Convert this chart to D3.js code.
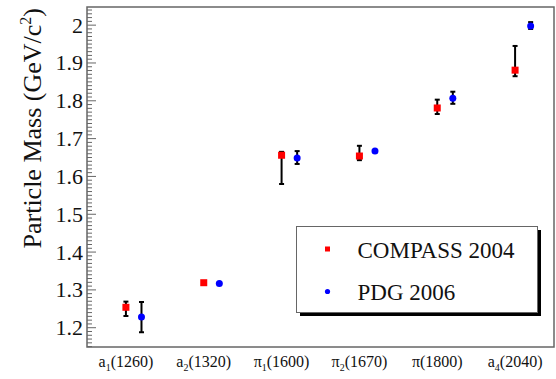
<!DOCTYPE html>
<html>
<head>
<meta charset="utf-8">
<script src="https://cdn.jsdelivr.net/npm/d3@7"></script>
<style>
  body { margin: 0; background: #fff; }
</style>
</head>
<body>
<svg id="chart"></svg>
<script>
const width = 556;
const height = 379;

// particles, label parts (name, subscript, mass)
const particles = ["a1(1260)", "a2(1320)", "π1(1600)", "π2(1670)", "π(1800)", "a4(2040)"];
const labelName = ["a", "a", "π", "π", "π", "a"];
const labelSub = ["1", "2", "1", "2", "", "4"];
const labelMass = ["(1260)", "(1320)", "(1600)", "(1670)", "(1800)", "(2040)"];

// COMPASS 2004 (value, lower, upper)
const compassMass = [1.254, 1.319, 1.656, 1.654, 1.781, 1.881];
const compassLo = [1.231, 1.317, 1.580, 1.643, 1.765, 1.865];
const compassHi = [1.269, 1.321, 1.665, 1.681, 1.803, 1.945];

// PDG 2006
const pdgMass = [1.228, 1.317, 1.649, 1.667, 1.807, 1.998];
const pdgLo = [1.188, 1.316, 1.633, 1.666, 1.792, 1.990];
const pdgHi = [1.268, 1.318, 1.667, 1.668, 1.824, 2.008];

const yTicks = [1.2, 1.3, 1.4, 1.5, 1.6, 1.7, 1.8, 1.9, 2];

const margin = {left: 87, right: 2, top: 7, bottom: 32};
const x0 = margin.left, x1 = width - margin.right;
const yTop = margin.top, yBot = height - margin.bottom;

const svg = d3.select("#chart")
    .attr("width", width)
    .attr("height", height)
    .attr("font-family", "'Liberation Serif', 'DejaVu Serif', serif");

const x = d3.scaleBand()
    .domain(particles)
    .range([x0, x1]);

const y = d3.scaleLinear()
    .domain([1.149, 2.048])
    .range([yBot, yTop]);

const offset = x.bandwidth() * 0.2;

// frame
svg.append("rect")
    .attr("x", x0)
    .attr("y", yTop)
    .attr("width", x1 - x0)
    .attr("height", yBot - yTop)
    .attr("fill", "none")
    .attr("stroke", "#666")
    .attr("stroke-width", 1.5);

// y axis ticks (major every 0.1, minor every 0.01)
const minor = d3.range(115, 205).map(v => v / 100);
svg.append("g")
    .selectAll("line")
    .data(minor)
    .join("line")
    .attr("x1", x0)
    .attr("x2", d => x0 + (Math.abs(d * 10 - Math.round(d * 10)) < 1e-6 ? 9 : 5))
    .attr("y1", d => y(d))
    .attr("y2", d => y(d))
    .attr("stroke", "#666")
    .attr("stroke-width", 1);

svg.append("g")
    .selectAll("text")
    .data(yTicks)
    .join("text")
    .attr("x", x0 - 4)
    .attr("y", d => y(d))
    .attr("dy", "0.34em")
    .attr("text-anchor", "end")
    .attr("font-size", 22)
    .attr("fill", "#111")
    .text(d => d3.format("~g")(d));

// y title
svg.append("text")
    .attr("transform", `translate(41,8) rotate(-90)`)
    .attr("text-anchor", "end")
    .attr("font-size", 26)
    .attr("fill", "#111")
    .html('Particle Mass (GeV/c<tspan dy="-10" font-size="16">2</tspan><tspan dy="10">)</tspan>');

// x labels
const xl = svg.append("g")
    .selectAll("text")
    .data(particles)
    .join("text")
    .attr("x", d => x(d) + x.bandwidth() / 2)
    .attr("y", 367)
    .attr("text-anchor", "middle")
    .attr("font-size", 16)
    .attr("fill", "#111");
xl.each(function(d, i) {
    const t = d3.select(this);
    t.append("tspan").text(labelName[i]);
    if (labelSub[i]) {
        t.append("tspan").attr("dy", 4).attr("font-size", 10).text(labelSub[i]);
        t.append("tspan").attr("dy", -4).text(labelMass[i]);
    } else {
        t.append("tspan").text(labelMass[i]);
    }
});

function drawSeries(vals, lo, hi, dx, shape, color) {
    const g = svg.append("g");
    particles.forEach((p, i) => {
        const cx = x(p) + x.bandwidth() / 2 + dx;
        if (hi[i] - lo[i] > 0.004) {
            g.append("line")
                .attr("x1", cx).attr("x2", cx)
                .attr("y1", y(lo[i])).attr("y2", y(hi[i]))
                .attr("stroke", "#000").attr("stroke-width", 2);
            [lo[i], hi[i]].forEach(v => {
                g.append("line")
                    .attr("x1", cx - 2.5).attr("x2", cx + 2.5)
                    .attr("y1", y(v)).attr("y2", y(v))
                    .attr("stroke", "#000").attr("stroke-width", 2);
            });
        }
        if (shape === "square") {
            g.append("rect")
                .attr("x", cx - 3.5).attr("y", y(vals[i]) - 3.5)
                .attr("width", 7).attr("height", 7)
                .attr("fill", color);
        } else {
            g.append("circle")
                .attr("cx", cx).attr("cy", y(vals[i]))
                .attr("r", 3.5)
                .attr("fill", color);
        }
    });
}

drawSeries(compassMass, compassLo, compassHi, 0, "square", "#f00");
drawSeries(pdgMass, pdgLo, pdgHi, offset, "circle", "#00f");

// legend
const lg = svg.append("g");
lg.append("rect")
    .attr("x", 300).attr("y", 230)
    .attr("width", 241).attr("height", 86)
    .attr("fill", "#000");
lg.append("rect")
    .attr("x", 296.5).attr("y", 226.5)
    .attr("width", 241).attr("height", 86)
    .attr("fill", "#fff")
    .attr("stroke", "#666")
    .attr("stroke-width", 1);
lg.append("rect")
    .attr("x", 325).attr("y", 246.5)
    .attr("width", 5).attr("height", 5)
    .attr("fill", "#f00");
lg.append("circle")
    .attr("cx", 327.5).attr("cy", 291.5)
    .attr("r", 2.6)
    .attr("fill", "#00f");
lg.append("text")
    .attr("x", 357.5).attr("y", 258)
    .attr("font-size", 23).attr("fill", "#111")
    .text("COMPASS 2004");
lg.append("text")
    .attr("x", 357.5).attr("y", 300)
    .attr("font-size", 23).attr("fill", "#111")
    .text("PDG 2006");
</script>
</body>
</html>
